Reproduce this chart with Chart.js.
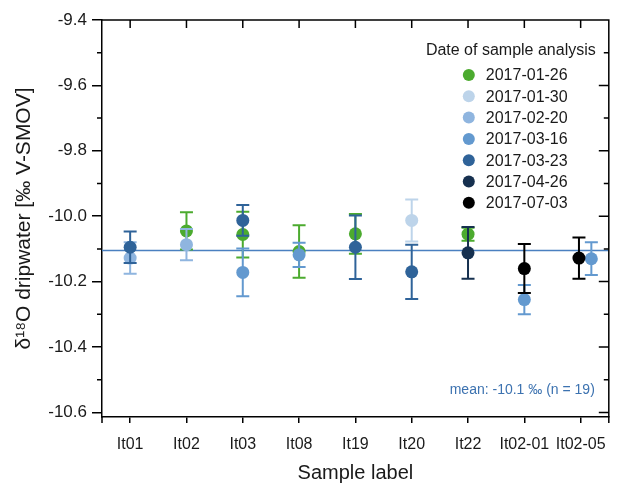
<!DOCTYPE html>
<html>
<head>
<meta charset="utf-8">
<script src="https://cdn.jsdelivr.net/npm/chart.js@4.4.1/dist/chart.umd.min.js"></script>
<style>
  html, body { margin: 0; padding: 0; background: #fff; }
</style>
</head>
<body>
<canvas id="isoChart" width="618" height="487"></canvas>
<script>
const categories = ['It01', 'It02', 'It03', 'It08', 'It19', 'It20', 'It22', 'It02-01', 'It02-05'];
const analysisDates = ['2017-01-26', '2017-01-30', '2017-02-20', '2017-03-16', '2017-03-23', '2017-04-26', '2017-07-03'];
const yTicks = [-9.4, -9.6, -9.8, -10.0, -10.2, -10.4, -10.6];

// sample labels, d18O values and errors for each analysis date
const samples0126 = ['It02', 'It03', 'It08', 'It19', 'It22'];
const values0126 = [-10.045, -10.056, -10.108, -10.054, -10.055];
const errors0126 = [0.057, 0.070, 0.080, 0.061, 0.020];

const samples0130 = ['It20'];
const values0130 = [-10.013];
const errors0130 = [0.064];

const samples0220 = ['It01', 'It02'];
const values0220 = [-10.128, -10.087];
const errors0220 = [0.048, 0.048];

const samples0316 = ['It03', 'It08', 'It02-01', 'It02-05'];
const values0316 = [-10.172, -10.118, -10.255, -10.130];
const errors0316 = [0.073, 0.037, 0.045, 0.050];

const samples0323 = ['It01', 'It03', 'It19', 'It20'];
const values0323 = [-10.095, -10.013, -10.095, -10.170];
const errors0323 = [0.048, 0.047, 0.097, 0.083];

const samples0426 = ['It22'];
const values0426 = [-10.112];
const errors0426 = [0.079];

const samples0703 = ['It02-01', 'It02-05'];
const values0703 = [-10.160, -10.128];
const errors0703 = [0.075, 0.063];

const dateColors = ['#4cab2f', '#bdd4ea', '#8fb5df', '#6399cf', '#2f6399', '#16304f', '#000000'];

// small sideways shift where two points sit on top of each other
const dodge = { '2017-03-16|It02-05': 0.19, '2017-07-03|It02-05': -0.03 };

const seriesTable = [
  [samples0126, values0126, errors0126],
  [samples0130, values0130, errors0130],
  [samples0220, values0220, errors0220],
  [samples0316, values0316, errors0316],
  [samples0323, values0323, errors0323],
  [samples0426, values0426, errors0426],
  [samples0703, values0703, errors0703]
];

const allValues = seriesTable.flatMap(s => s[1]);
const meanValue = allValues.reduce((a, b) => a + b, 0) / allValues.length;

const datasets = seriesTable.map((s, i) => ({
  label: analysisDates[i],
  data: s[0].map((name, j) => ({
    x: categories.indexOf(name) + (dodge[analysisDates[i] + '|' + name] || 0),
    y: s[1][j]
  })),
  errors: s[2],
  backgroundColor: dateColors[i],
  borderWidth: 0,
  pointRadius: 6.5,
  pointHoverRadius: 6.5,
  order: 10 - i
}));

datasets.push({
  label: 'mean',
  data: [{ x: -0.5, y: meanValue }, { x: categories.length - 0.5, y: meanValue }],
  showLine: true,
  borderColor: '#4a80c0',
  borderWidth: 1.5,
  pointRadius: 0,
  order: 100
});

const errorBars = {
  id: 'errorBars',
  beforeDatasetDraw(chart, args) {
    const ds = chart.data.datasets[args.index];
    if (!ds.errors) return;
    const xs = chart.scales.x, ys = chart.scales.y, ctx = chart.ctx;
    ctx.save();
    ctx.strokeStyle = ds.backgroundColor;
    ctx.lineWidth = 2;
    ds.data.forEach((p, i) => {
      const px = xs.getPixelForValue(p.x);
      const top = ys.getPixelForValue(p.y + ds.errors[i]);
      const bot = ys.getPixelForValue(p.y - ds.errors[i]);
      ctx.beginPath();
      ctx.moveTo(px, top); ctx.lineTo(px, bot);
      ctx.moveTo(px - 6.5, top); ctx.lineTo(px + 6.5, top);
      ctx.moveTo(px - 6.5, bot); ctx.lineTo(px + 6.5, bot);
      ctx.stroke();
    });
    ctx.restore();
  }
};

const frame = {
  id: 'frame',
  afterDraw(chart) {
    const { ctx, chartArea: a } = chart;
    const xs = chart.scales.x, ys = chart.scales.y;
    ctx.save();
    ctx.strokeStyle = '#000';
    ctx.lineWidth = 1.5;
    ctx.beginPath();
    ctx.moveTo(a.left, a.top); ctx.lineTo(a.right, a.top); ctx.lineTo(a.right, a.bottom);
    // top ticks pointing in
    categories.forEach((c, i) => {
      const px = xs.getPixelForValue(i);
      ctx.moveTo(px, a.top); ctx.lineTo(px, a.top + 8);
    });
    // end ticks on the x axis
    ctx.moveTo(a.left, a.bottom); ctx.lineTo(a.left, a.bottom + 6);
    ctx.moveTo(a.right, a.bottom); ctx.lineTo(a.right, a.bottom + 6);
    // right ticks pointing in, plus minor ticks both sides
    yTicks.forEach(v => {
      const py = ys.getPixelForValue(v);
      ctx.moveTo(a.right, py); ctx.lineTo(a.right - 10, py);
      const pm = ys.getPixelForValue(v + 0.1);
      if (v + 0.1 <= ys.max + 1e-9) {
        ctx.moveTo(a.left, pm); ctx.lineTo(a.left - 5, pm);
        ctx.moveTo(a.right, pm); ctx.lineTo(a.right - 5, pm);
      }
    });
    ctx.stroke();

    // legend
    const lx = a.right - 140;
    ctx.font = '16px "Liberation Sans", Arial, sans-serif';
    ctx.fillStyle = '#1a1a1a';
    ctx.textAlign = 'center';
    ctx.textBaseline = 'middle';
    ctx.fillText('Date of sample analysis', a.right - 98, a.top + 31);
    ctx.textAlign = 'left';
    analysisDates.forEach((d, i) => {
      const ly = a.top + 55 + i * 21.3;
      ctx.fillStyle = dateColors[i];
      ctx.beginPath();
      ctx.arc(lx, ly, 6, 0, Math.PI * 2);
      ctx.fill();
      ctx.fillStyle = '#1a1a1a';
      ctx.fillText(d, lx + 17, ly + 1);
    });

    // mean annotation
    ctx.font = '14px "Liberation Sans", Arial, sans-serif';
    ctx.fillStyle = '#3c72b0';
    ctx.textAlign = 'right';
    ctx.fillText('mean: ' + meanValue.toFixed(1) + ' \u2030 (n = ' + allValues.length + ')', a.right - 14, a.bottom - 27);
    ctx.restore();
  }
};

const fontFamily = '"Liberation Sans", Arial, sans-serif';

new Chart(document.getElementById('isoChart').getContext('2d'), {
  type: 'scatter',
  data: { datasets: datasets },
  plugins: [errorBars, frame],
  options: {
    responsive: false,
    animation: false,
    devicePixelRatio: 1,
    layout: { padding: { top: 20, right: 8, left: 0, bottom: 0 } },
    plugins: {
      legend: { display: false },
      tooltip: { enabled: false }
    },
    scales: {
      x: {
        type: 'linear',
        min: -0.5,
        max: categories.length - 0.5,
        afterBuildTicks: scale => { scale.ticks = categories.map((c, i) => ({ value: i })); },
        afterFit: scale => { scale.height = 70; },
        ticks: {
          autoSkip: false,
          maxRotation: 0,
          padding: 12,
          color: '#1a1a1a',
          font: { family: fontFamily, size: 16 },
          callback: v => categories[Math.round(v)]
        },
        grid: { drawOnChartArea: false, drawTicks: true, tickLength: 6, color: '#000', lineWidth: 1.5 },
        border: { display: true, color: '#000', width: 1.5 },
        title: {
          display: true,
          text: 'Sample label',
          color: '#1a1a1a',
          font: { family: fontFamily, size: 20 },
          padding: { top: 0, bottom: 2 }
        }
      },
      y: {
        type: 'linear',
        min: -10.614,
        max: -9.4,
        afterBuildTicks: scale => { scale.ticks = yTicks.map(v => ({ value: v })); },
        afterFit: scale => { scale.width = 102; },
        ticks: {
          padding: 5,
          color: '#1a1a1a',
          font: { family: fontFamily, size: 17 },
          callback: v => v.toFixed(1)
        },
        grid: { drawOnChartArea: false, drawTicks: true, tickLength: 10, color: '#000', lineWidth: 1.5 },
        border: { display: true, color: '#000', width: 1.5 },
        title: {
          display: true,
          text: '\u03b4\u00b9\u2078O dripwater [\u2030 V-SMOV]',
          color: '#1a1a1a',
          font: { family: fontFamily, size: 21 },
          padding: { top: 12, bottom: 0 }
        }
      }
    }
  }
});
</script>
</body>
</html>
